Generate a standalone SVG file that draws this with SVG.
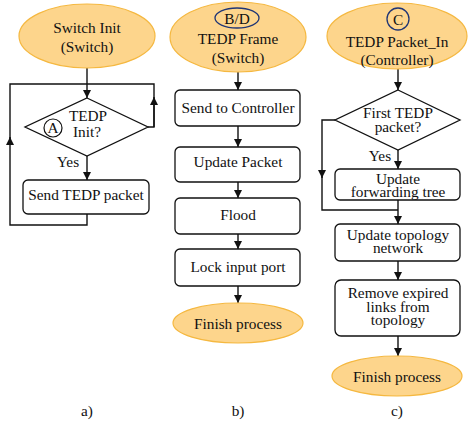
<svg xmlns="http://www.w3.org/2000/svg" width="472" height="422" viewBox="0 0 472 422">
<style>
text{font-family:'Liberation Serif','DejaVu Serif','Times New Roman',serif;font-size:15.3px;fill:#111;text-anchor:middle}
.term{fill:#FDD58C;stroke:#F5B840;stroke-width:1.2}
.box{fill:#fff;stroke:#111;stroke-width:1.3}
.dia{fill:#fff;stroke:#111;stroke-width:1.3}
.lbl{fill:none;stroke:#1F3575;stroke-width:1.3}
.c{fill:none;stroke:#111;stroke-width:1.4}
.a{marker-end:url(#ah)}
</style>
<defs>
<marker id="ah" viewBox="0 0 10 10" refX="10" refY="5" markerWidth="8" markerHeight="8" markerUnits="userSpaceOnUse" orient="auto">
<path d="M0,0 L10,5 L0,10 z" fill="#111"/>
</marker>
</defs>
<g id="connectors">
<path class="c a" d="M87,68 V98"/>
<path class="c" d="M148,127 H154 V84 H87"/>
<path class="c a" d="M154,127 V97"/>
<path class="c a" d="M87,156 V180"/>
<path class="c a" d="M87,214 V225 H10 V137"/>
<path class="c" d="M10,141 V84 H87"/>
<path class="c a" d="M238,72 V90"/>
<path class="c a" d="M238,126 V147"/>
<path class="c a" d="M238,182 V198"/>
<path class="c a" d="M238,234 V249"/>
<path class="c a" d="M238,286 V303"/>
<path class="c a" d="M398,68 V90"/>
<path class="c a" d="M398,150 V169"/>
<path class="c a" d="M335,120 H322 V178"/>
<path class="c" d="M322,175 V210 H398"/>
<path class="c a" d="M398,200 V224"/>
<path class="c a" d="M398,261 V280"/>
<path class="c a" d="M398,336 V356"/>
</g>
<g id="a_start">
<ellipse class="term" cx="87" cy="36" rx="68" ry="32"/>
<text x="87" y="33">Switch Init</text>
<text x="87" y="52">(Switch)</text>
</g>
<g id="a_decision">
<polygon class="dia" points="87,98 148,127 87,156 25,127"/>
<circle cx="53" cy="128" r="9" fill="none" stroke="#111" stroke-width="1.2"/>
<text x="53" y="133">A</text>
<text x="88" y="121">TEDP</text>
<text x="87" y="137">Init?</text>
<text x="68" y="167">Yes</text>
</g>
<g id="a_send">
<rect class="box" x="23" y="180" width="126" height="34" rx="5"/>
<text x="86" y="200">Send TEDP packet</text>
</g>
<g id="b_start">
<ellipse class="term" cx="238" cy="37" rx="68" ry="35"/>
<ellipse class="lbl" cx="237" cy="18" rx="22" ry="10"/>
<text x="237" y="24">B/D</text>
<text x="238" y="44">TEDP Frame</text>
<text x="238" y="63">(Switch)</text>
</g>
<g id="b_send">
<rect class="box" x="175" y="90" width="125" height="36" rx="5"/>
<text x="238" y="113">Send to Controller</text>
</g>
<g id="b_update">
<rect class="box" x="175" y="147" width="125" height="35" rx="5"/>
<text x="238" y="167">Update Packet</text>
</g>
<g id="b_flood">
<rect class="box" x="175" y="198" width="125" height="36" rx="5"/>
<text x="238" y="220">Flood</text>
</g>
<g id="b_lock">
<rect class="box" x="175" y="249" width="125" height="37" rx="5"/>
<text x="238" y="272">Lock input port</text>
</g>
<g id="b_finish">
<ellipse class="term" cx="238" cy="323" rx="65" ry="20"/>
<text x="238" y="329">Finish process</text>
</g>
<g id="c_start">
<ellipse class="term" cx="397" cy="36" rx="70" ry="33"/>
<circle class="lbl" cx="398" cy="19" r="11"/>
<text x="398" y="25">C</text>
<text x="397" y="47">TEDP Packet_In</text>
<text x="397" y="65">(Controller)</text>
</g>
<g id="c_decision">
<polygon class="dia" points="398,90 460,120 398,150 335,120"/>
<text x="398" y="118">First TEDP</text>
<text x="398" y="132">packet?</text>
<text x="380" y="161">Yes</text>
</g>
<g id="c_tree">
<rect class="box" x="335" y="169" width="125" height="31" rx="5"/>
<text x="398" y="184">Update</text>
<text x="398" y="197">forwarding tree</text>
</g>
<g id="c_topo">
<rect class="box" x="335" y="224" width="125" height="37" rx="5"/>
<text x="398" y="240">Update topology</text>
<text x="398" y="253">network</text>
</g>
<g id="c_remove">
<rect class="box" x="335" y="280" width="125" height="56" rx="6"/>
<text x="398" y="298">Remove expired</text>
<text x="398" y="312">links from</text>
<text x="398" y="325">topology</text>
</g>
<g id="c_finish">
<ellipse class="term" cx="397" cy="376" rx="65" ry="20"/>
<text x="397" y="382">Finish process</text>
</g>
<g id="captions">
<text x="87" y="416">a)</text>
<text x="238" y="416">b)</text>
<text x="397" y="416">c)</text>
</g>
</svg>
